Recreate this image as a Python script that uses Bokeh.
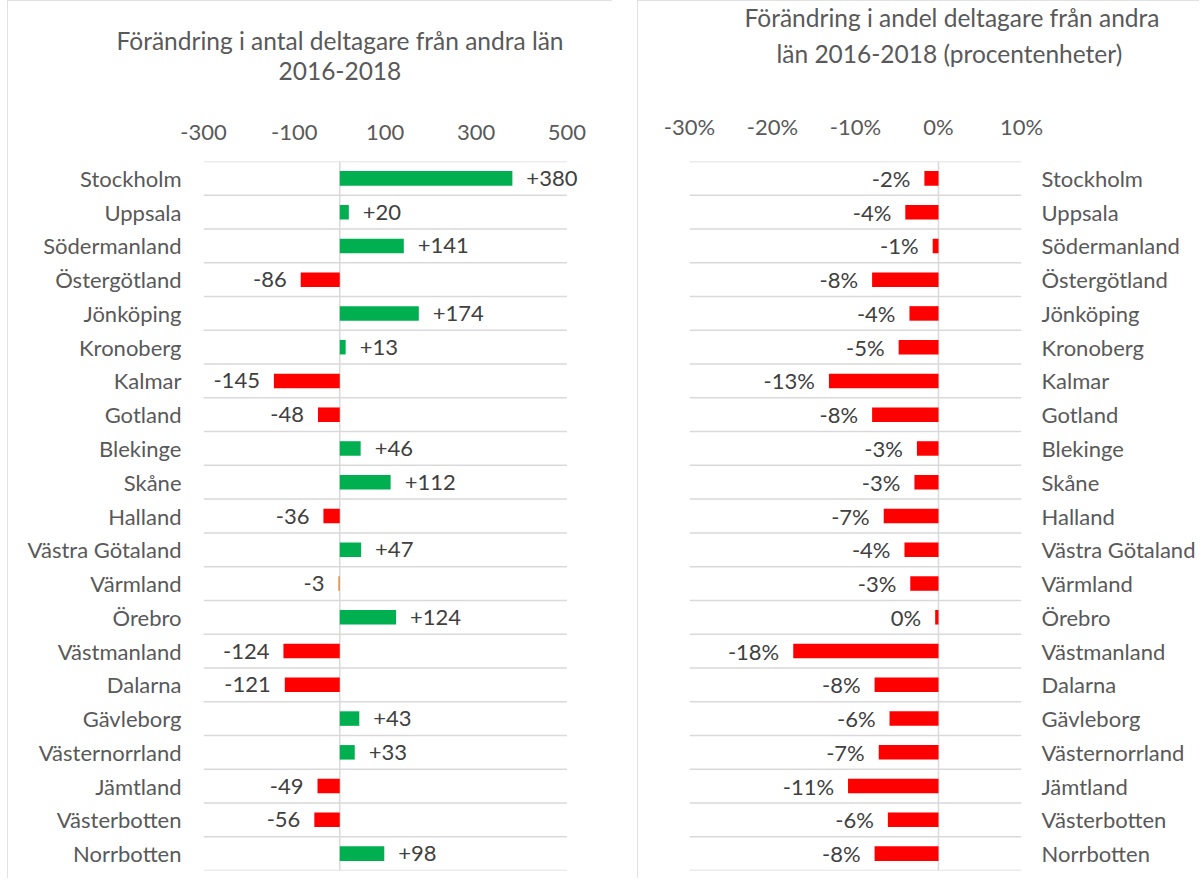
from bokeh.plotting import figure
from bokeh.models import (FixedTicker, Range1d, Span, Title, ColumnDataSource, LinearAxis)
from bokeh.layouts import row
from bokeh.models import Spacer
from bokeh.core.properties import value
from bokeh.embed import file_html
from bokeh.resources import INLINE

regions = ["Stockholm", "Uppsala", "Södermanland", "Östergötland", "Jönköping",
           "Kronoberg", "Kalmar", "Gotland", "Blekinge", "Skåne", "Halland",
           "Västra Götaland", "Värmland", "Örebro", "Västmanland", "Dalarna",
           "Gävleborg", "Västernorrland", "Jämtland", "Västerbotten", "Norrbotten"]
count_change = [380, 20, 141, -86, 174, 13, -145, -48, 46, 112, -36, 47, -3, 124,
                -124, -121, 43, 33, -49, -56, 98]
share_change = [-1.7, -4.0, -0.7, -8.0, -3.5, -4.8, -13.2, -8.0, -2.6, -2.9, -6.6,
                -4.1, -3.4, -0.4, -17.5, -7.7, -5.9, -7.2, -10.9, -6.1, -7.7]
left_ticks = [-300, -100, 100, 300, 500]
right_ticks = [-30, -20, -10, 0, 10]
title_left = ["Förändring i antal deltagare från andra län", "2016-2018"]
title_right = ["Förändring i andel deltagare från andra", "län 2016-2018 (procentenheter)"]

FONT = "Lato"
TXT = "#595959"
VAL = "#404040"
GRID = "#D9D9D9"
GREEN = "#00B050"
RED = "#FF0000"
ORANGE = "#ED7D31"
FS = "22px"
N = len(regions)
idx = list(range(N))
bounds = [i - 0.5 for i in range(N + 1)]


def style_axis(ax, standoff):
    ax.axis_line_color = None
    ax.major_tick_line_color = None
    ax.minor_tick_line_color = None
    ax.major_tick_out = 0
    ax.major_tick_in = 0
    ax.minor_tick_out = 0
    ax.minor_tick_in = 0
    ax.major_label_text_font = FONT
    ax.major_label_text_font_size = FS
    ax.major_label_text_color = TXT
    ax.major_label_standoff = standoff


def base_fig(width, xr, mbl, mbr, titles, offsets, grid_span):
    p = figure(width=width, height=878, output_backend="svg", toolbar_location=None,
               x_range=xr, y_range=Range1d(N - 0.5, -0.5),
               x_axis_location="above",
               min_border_left=mbl, min_border_right=mbr, min_border_top=145,
               min_border_bottom=8)
    p.title.text = ""
    p.title.text_font_size = "0px"
    p.title.standoff = 0
    p.outline_line_color = None
    p.xgrid.grid_line_color = None
    p.ygrid.grid_line_color = None
    p.styles = {"outline": "1px solid #D9D9D9", "outline-offset": "-1px"}
    style_axis(p.xaxis[0], 22)
    p.segment(x0=grid_span[0], x1=grid_span[1], y0=bounds, y1=bounds,
              line_color=GRID, line_width=1.5, level="underlay")
    p.add_layout(Span(location=0, dimension="height", line_color=GRID,
                      line_width=1.5, level="underlay"))
    # spacer title between axis and the title lines
    p.add_layout(Title(text=" ", text_font_size="1px", standoff=33), "above")
    p.add_layout(Title(text=titles[1], align="left", offset=offsets[1], standoff=11,
                       text_font=FONT, text_font_size="24.5px", text_font_style="normal",
                       text_color=TXT), "above")
    p.add_layout(Title(text=titles[0], align="left", offset=offsets[0], standoff=0,
                       text_font=FONT, text_font_size="24.5px", text_font_style="normal",
                       text_color=TXT), "above")
    return p


# ---------- left chart ----------
p1 = base_fig(605, Range1d(-300, 530), 196, 32, title_left, (-87, 75),
              (left_ticks[0], left_ticks[-1]))
p1.xaxis.ticker = FixedTicker(ticks=left_ticks)
p1.xaxis.major_label_overrides = {t: str(t) for t in left_ticks}
p1.yaxis.ticker = FixedTicker(ticks=idx)
p1.yaxis.major_label_overrides = {i: r for i, r in enumerate(regions)}
style_axis(p1.yaxis[0], 22)

colors1 = []
for r, v in zip(regions, count_change):
    if r == "Värmland":
        colors1.append(ORANGE)
    else:
        colors1.append(GREEN if v > 0 else RED)
lab1 = [("+%d" % v) if v > 0 else str(v) for v in count_change]
src1 = ColumnDataSource(dict(y=idx, v=count_change, c=colors1, lab=lab1,
                             align=["left" if v > 0 else "right" for v in count_change],
                             off=[14 if v > 0 else -14 for v in count_change]))
p1.hbar(y="y", left=0, right="v", height=0.43, fill_color="c", line_color=None, source=src1)
p1.text(x="v", y="y", text="lab", text_align="align", x_offset="off",
        text_baseline="middle", text_font=value(FONT), text_font_size=FS,
        text_color=VAL, source=src1)

# ---------- right chart ----------
p2 = base_fig(562, Range1d(-0.30, 0.10), 52, 178, title_right, (55, 87),
              (right_ticks[0] / 100, right_ticks[-1] / 100))
p2.yaxis.visible = False
ax_r = LinearAxis(ticker=FixedTicker(ticks=idx),
                  major_label_overrides={i: r for i, r in enumerate(regions)})
style_axis(ax_r, 20)
p2.add_layout(ax_r, "right")
p2.xaxis.ticker = FixedTicker(ticks=[t / 100 for t in right_ticks])
p2.xaxis.major_label_overrides = {t / 100: "%d%%" % t for t in right_ticks}

share = [v / 100 for v in share_change]
lab2 = ["%d%%" % int(round(v)) for v in share_change]
src2 = ColumnDataSource(dict(y=idx, v=share, lab=lab2,
                             align=["left" if v > 0 else "right" for v in share],
                             off=[14 if v > 0 else -14 for v in share]))
p2.hbar(y="y", left=0, right="v", height=0.43, fill_color=RED, line_color=None, source=src2)
p2.text(x="v", y="y", text="lab", text_align="align", x_offset="off",
        text_baseline="middle", text_font=value(FONT), text_font_size=FS,
        text_color=VAL, source=src2)

layout = row(Spacer(width=7), p1, Spacer(width=25), p2)
open("out.html", "w").write(file_html(layout, INLINE))
